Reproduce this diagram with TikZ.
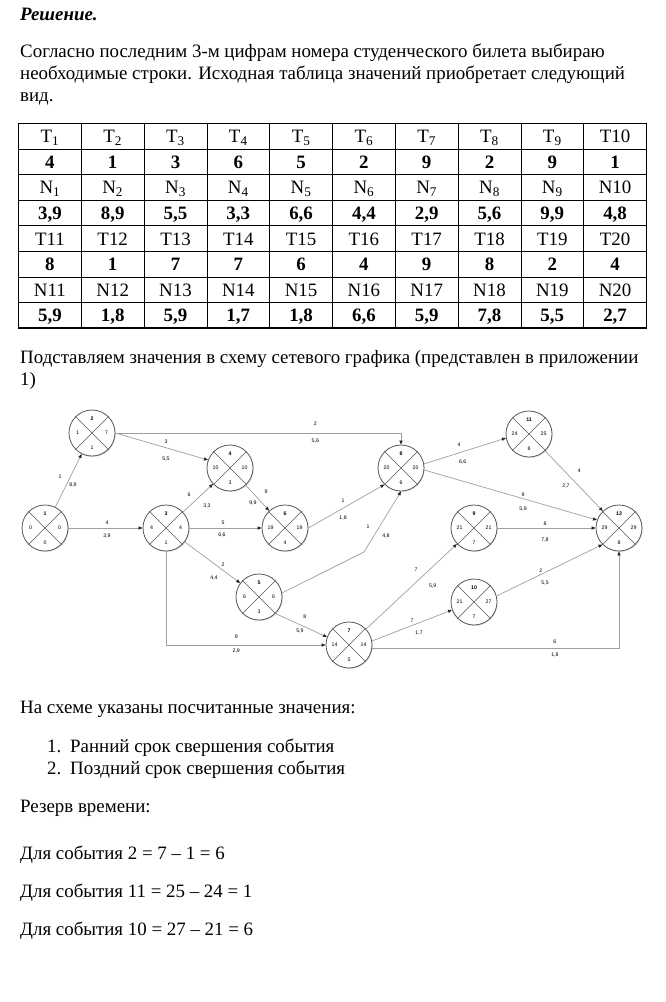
\documentclass[tikz,border=0pt]{standalone}
\usepackage{fontspec}
\setmainfont{Liberation Serif}
\newfontfamily\diagfont{Liberation Sans}
\usetikzlibrary{arrows.meta, calc, shadows}
\tikzset{
  txt/.style={anchor=base west, inner sep=0pt, font=\fontsize{18.9}{22}\selectfont},
  cell/.style={anchor=base, inner sep=0pt, font=\fontsize{18.9}{22}\selectfont},
  val/.style={cell, font=\fontsize{18.9}{22}\selectfont\bfseries},
  tabline/.style={line width=0.7pt},
  tabframe/.style={line width=1.3pt},
  ev/.style={circle, draw=gray!70!black, line width=0.8pt, fill=white,
             minimum size=46pt, inner sep=0pt,
             drop shadow={opacity=0.3, shadow xshift=0.7pt, shadow yshift=-0.9pt}},
  evx/.style={draw=gray!70!black, line width=0.6pt},
  evtxt/.style={inner sep=0pt, font=\diagfont\fontsize{5.2}{6}\selectfont},
  lbl/.style={midway, inner sep=0pt, font=\diagfont\fontsize{5.2}{6}\selectfont},
  arr/.style={draw=gray!75, line width=0.7pt,
              -{Triangle[length=4pt, width=3.2pt, color=black!85]}},
}
\newcommand{\evnode}[6]{%
  \node[ev] (#1) at (#2) {};
  \draw[evx] (#1.45) -- (#1.225) (#1.135) -- (#1.-45);
  \node[evtxt, font=\diagfont\fontsize{5.2}{6}\selectfont\bfseries] (#1-n) at ([yshift=14.5pt]#1.center) {#3};
  \node[evtxt] (#1-e) at ([xshift=-14.5pt]#1.center) {#4};
  \node[evtxt] (#1-l) at ([xshift=14.5pt]#1.center) {#5};
  \node[evtxt] (#1-r) at ([yshift=-14.5pt]#1.center) {#6};
}
\begin{document}
\begin{tikzpicture}[x=1pt, y=-1pt]
  \useasboundingbox (0,0) rectangle (666,1002);

  \node[txt, font=\fontsize{18.9}{22}\selectfont\bfseries\itshape] (head) at (20,20) {Решение.};
  \node[txt] (p1a) at (20,57) {Согласно последним 3-м цифрам номера студенческого билета выбираю};
  \node[txt] (p1b) at (20,79) {необходимые строки. Исходная таблица значений приобретает следующий};
  \node[txt] (p1c) at (20,101) {вид.};

  \foreach \i in {1,...,9}
    \draw[tabline] ({18.5+62.8*\i},123.5) -- ({18.5+62.8*\i},328);
  \foreach \j in {1,...,7}
    \draw[tabline] (18.5,{123.5+25.56*\j}) -- (646.5,{123.5+25.56*\j});
  \draw[tabframe] (18.5,123.5) rectangle (646.5,328);

  \foreach \v [count=\c] in {T\textsubscript{1},T\textsubscript{2},T\textsubscript{3},T\textsubscript{4},T\textsubscript{5},T\textsubscript{6},T\textsubscript{7},T\textsubscript{8},T\textsubscript{9},T10}
    \node[cell] (ra-\c) at ({18.5+62.8*(\c-0.5)},142.8) {\v};
  \foreach \v [count=\c] in {4,1,3,6,5,2,9,2,9,1}
    \node[val] (rb-\c) at ({18.5+62.8*(\c-0.5)},168.3) {\v};
  \foreach \v [count=\c] in {N\textsubscript{1},N\textsubscript{2},N\textsubscript{3},N\textsubscript{4},N\textsubscript{5},N\textsubscript{6},N\textsubscript{7},N\textsubscript{8},N\textsubscript{9},N10}
    \node[cell] (rc-\c) at ({18.5+62.8*(\c-0.5)},193.9) {\v};
  \foreach \v [count=\c] in {{3,9},{8,9},{5,5},{3,3},{6,6},{4,4},{2,9},{5,6},{9,9},{4,8}}
    \node[val] (rd-\c) at ({18.5+62.8*(\c-0.5)},219.4) {\v};
  \foreach \v [count=\c] in {T11,T12,T13,T14,T15,T16,T17,T18,T19,T20}
    \node[cell] (re-\c) at ({18.5+62.8*(\c-0.5)},245.0) {\v};
  \foreach \v [count=\c] in {8,1,7,7,6,4,9,8,2,4}
    \node[val] (rf-\c) at ({18.5+62.8*(\c-0.5)},270.5) {\v};
  \foreach \v [count=\c] in {N11,N12,N13,N14,N15,N16,N17,N18,N19,N20}
    \node[cell] (rg-\c) at ({18.5+62.8*(\c-0.5)},296.1) {\v};
  \foreach \v [count=\c] in {{5,9},{1,8},{5,9},{1,7},{1,8},{6,6},{5,9},{7,8},{5,5},{2,7}}
    \node[val] (rh-\c) at ({18.5+62.8*(\c-0.5)},321.6) {\v};

  \node[txt] (p2a) at (20,363) {Подставляем значения в схему сетевого графика (представлен в приложении};
  \node[txt] (p2b) at (20,385) {1)};

  \evnode{n1}{45,528}{1}{0}{0}{0}
  \evnode{n2}{92,433}{2}{1}{7}{1}
  \evnode{n3}{166,528}{3}{4}{4}{1}
  \evnode{n4}{230,468}{4}{10}{10}{3}
  \evnode{n5}{259,597}{5}{6}{6}{3}
  \evnode{n6}{285,528}{6}{19}{19}{4}
  \evnode{n7}{349,645}{7}{14}{14}{5}
  \evnode{n8}{401,468}{8}{20}{20}{6}
  \evnode{n9}{474,528}{9}{21}{21}{7}
  \evnode{n10}{474,602}{10}{21}{27}{7}
  \evnode{n11}{529,434}{11}{24}{25}{8}
  \evnode{n12}{619,528}{12}{29}{29}{8}
  \coordinate (b58) at (364,552);

  \draw[arr] (n1) -- node[lbl, xshift=-8.5pt, yshift=3.5pt] {1} node[lbl, xshift=4.5pt, yshift=-4.5pt] {8,9} (n2);
  \draw[arr] (n2.east) -- node[lbl, xshift=4.3pt, yshift=4.5pt] {3} node[lbl, xshift=4.3pt, yshift=-12.5pt] {5,5} (n4.160);
  \draw[arr] (n2.east) -| node[lbl, pos=.35, yshift=9pt] {2} node[lbl, pos=.35, yshift=-8pt] {5,6} (n8);
  \draw[arr] (n1) -- node[lbl, xshift=1.5pt, yshift=5pt] {4} node[lbl, xshift=1.5pt, yshift=-8pt] {3,9} (n3);
  \draw[arr] (n3) -- node[lbl, xshift=-9pt, yshift=3pt] {6} node[lbl, xshift=9pt, yshift=-8pt] {3,3} (n4);
  \draw[arr] (n4) -- node[lbl, xshift=8.5pt, yshift=6pt] {9} node[lbl, xshift=-4.5pt, yshift=-5pt] {9,9} (n6);
  \draw[arr] (n3) -- node[lbl, xshift=-2.5pt, yshift=5pt] {5} node[lbl, xshift=-3.5pt, yshift=-7pt] {6,6} (n6);
  \draw[arr] (n6.east) -- node[lbl, xshift=-3.4pt, yshift=5.2pt] {1} node[lbl, xshift=-3.4pt, yshift=-11.8pt] {1,8} (n8.225);
  \draw[arr] (n5.10) -- (b58) -- node[lbl, xshift=-14.5pt, yshift=-5.5pt] {1} node[lbl, xshift=3.5pt, yshift=-14.5pt] {4,8} (n8.south);
  \draw[arr] (n3) -- node[lbl, xshift=10.5pt, yshift=-2.5pt] {2} node[lbl, xshift=1.5pt, yshift=-15.5pt] {4,4} (n5);
  \draw[arr] (n3) |- node[lbl, pos=.72, yshift=8pt] {9} node[lbl, pos=.72, yshift=-6pt] {2,9} (n7);
  \draw[arr] (n5.-45) -- node[lbl, xshift=3.6pt, yshift=8.2pt] {8} node[lbl, xshift=-1.4pt, yshift=-5.5pt] {5,9} (n7.160);
  \draw[arr] (n7) -- node[lbl, xshift=4.5pt, yshift=17.2pt] {7} node[lbl, xshift=21.2pt, yshift=0.5pt] {5,9} (n9);
  \draw[arr] (n7.10) -- node[lbl, yshift=4.5pt] {7} node[lbl, xshift=7pt, yshift=-8pt] {1,7} (n10.200);
  \draw[arr] ([yshift=-3pt]n7.east) -| node[lbl, pos=.37, yshift=6pt] {6} node[lbl, pos=.37, yshift=-7pt] {1,8} (n12);
  \draw[arr] (n8.10) -- node[lbl, xshift=-6pt, yshift=6pt] {4} node[lbl, xshift=-2.3pt, yshift=-11.3pt] {6,6} (n11.190);
  \draw[arr] (n8.-5) -- node[lbl, xshift=12.4pt] {9} node[lbl, xshift=12.4pt, yshift=-14.3pt] {5,9} (n12.160);
  \draw[arr] (n11) -- node[lbl, xshift=5.3pt, yshift=10pt] {4} node[lbl, xshift=-8pt, yshift=-5pt] {2,7} (n12);
  \draw[arr] (n9) -- node[lbl, xshift=-1.5pt, yshift=4.5pt] {8} node[lbl, xshift=-1.5pt, yshift=-12.5pt] {7,8} (n12);
  \draw[arr] (n10.15) -- node[lbl, xshift=-8.8pt] {2} node[lbl, xshift=-4.5pt, yshift=-12.5pt] {5,5} (n12.225);

  \node[txt] (p3) at (20,713) {На схеме указаны посчитанные значения:};
  \node[txt] (li1n) at (47,752) {1.};
  \node[txt] (li1) at (70,752) {Ранний срок свершения события};
  \node[txt] (li2n) at (47,774) {2.};
  \node[txt] (li2) at (70,774) {Поздний срок свершения события};
  \node[txt] (p4) at (20,812) {Резерв времени:};
  \node[txt] (r1) at (20,859) {Для события 2 = 7 – 1 = 6};
  \node[txt] (r2) at (20,897) {Для события 11 = 25 – 24 = 1};
  \node[txt] (r3) at (20,935) {Для события 10 = 27 – 21 = 6};
\end{tikzpicture}
\end{document}
